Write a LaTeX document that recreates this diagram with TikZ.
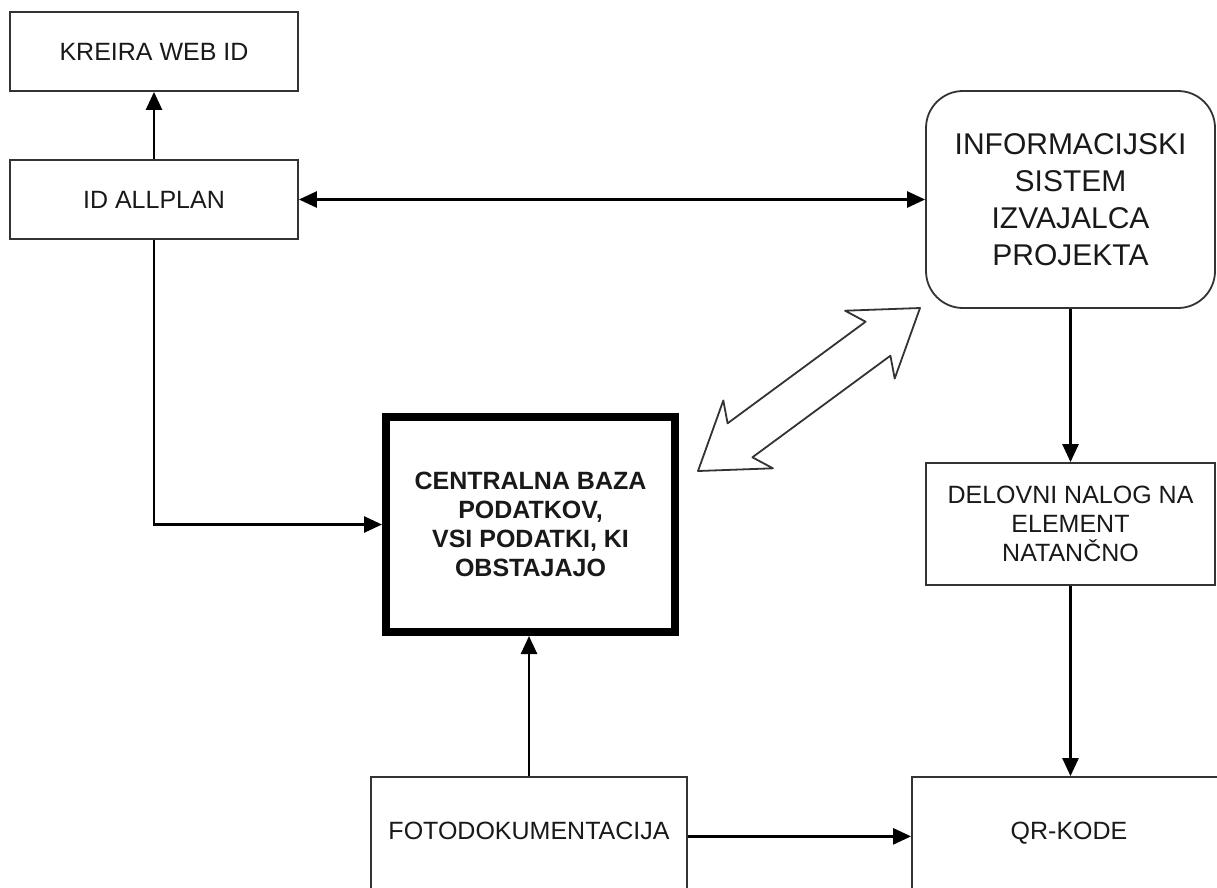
\documentclass[tikz,border=0pt]{standalone}
\usepackage{fontspec}
\setmainfont{Liberation Sans}
\usepackage{tkz-euclide}
\usetikzlibrary{arrows.meta}

\begin{document}
\begin{tikzpicture}[x=1pt,y=-1pt,
    box/.style={draw=black!80, line width=1.8pt, inner sep=0pt, align=center,
      minimum width=288pt, minimum height=79pt, text=black!90,
      font=\fontsize{25}{29}\selectfont},
    cutbox/.style={box, anchor=base, text height=62pt, text depth=70pt},
    link/.style={line width=2.6pt, -{Triangle[length=18pt,width=16pt]}}]
    \fill[white] (0,0) rectangle (1217,887);
    \useasboundingbox (0,0) rectangle (1217,887);
    \clip (0,0) rectangle (1217,887);
    \tkzDefPoints{154/51.5/K,154/199.5/L,1070.5/199.5/I,530.5/524.5/C,1070.5/524/D}
    \node[box] (kreira) at (K) {KREIRA WEB ID};
    \node[box] (allplan) at (L) {ID ALLPLAN};
    \node[box, rounded corners=37pt, minimum width=289pt, minimum height=217pt,
      font=\fontsize{30}{37}\selectfont] (info) at (I)
      {INFORMACIJSKI\\SISTEM\\IZVAJALCA\\PROJEKTA};
    \node[box, draw=black, line width=8pt, minimum width=289pt, minimum height=215pt,
      font=\bfseries\fontsize{25}{29}\selectfont] (baza) at (C)
      {CENTRALNA BAZA\\PODATKOV,\\VSI PODATKI, KI\\OBSTAJAJO};
    \node[box, minimum width=289pt, minimum height=122pt] (delovni) at (D)
      {DELOVNI NALOG NA\\ELEMENT\\NATANČNO};
    \node[cutbox, minimum width=316pt] (foto) at (529,839) {FOTODOKUMENTACIJA};
    \node[cutbox, minimum width=314pt] (qr) at (1069,839) {QR-KODE};
    % connectors
    \draw[link] (allplan) -- (kreira);
    \draw[link, {Triangle[length=18pt,width=16pt]}-{Triangle[length=18pt,width=16pt]}]
      (allplan) -- (info);
    \draw[link] (allplan.south) |- (baza.west);
    \draw[link] (info) -- (delovni);
    \draw[link] (delovni.south) -- (delovni.south |- qr.north);
    \draw[link] (foto.north) -- (foto.north |- baza.south);
    \draw[link] (foto.mid east) -- (qr.mid west);
    % hollow double arrow
    \tkzDefPoints{698/471/A1,772.9/468.3/A2,752.4/457.3/A3,890.4/355.7/A4,
      894.7/378.5/A5,920/308/A6,845.1/310.7/A7,865.6/321.7/A8,
      727.6/423.3/A9,723.3/400.5/A10}
    \tkzDrawPolygon[color=black!80, line width=1.8pt](A1,A2,A3,A4,A5,A6,A7,A8,A9,A10)
  \end{tikzpicture}
\end{document}
